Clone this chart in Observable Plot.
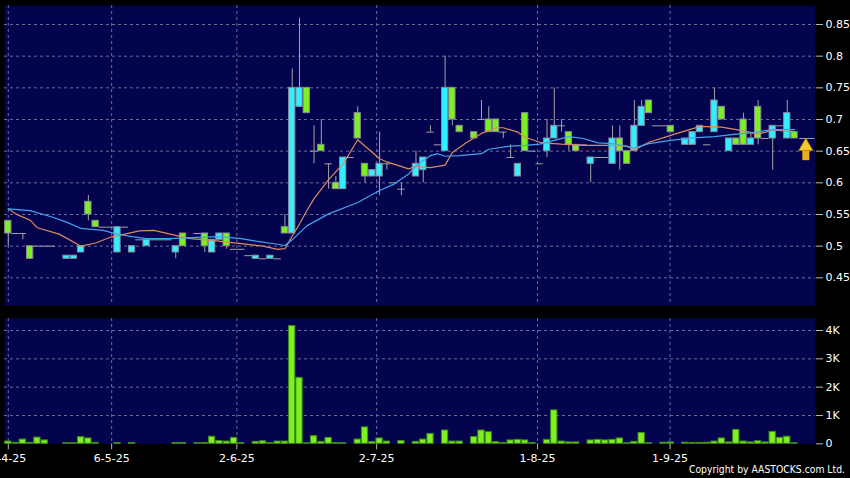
<!DOCTYPE html>
<html><head><meta charset="utf-8">
<script src="https://cdn.jsdelivr.net/npm/d3@7"></script>
<script src="https://cdn.jsdelivr.net/npm/@observablehq/plot@0.6"></script>
<style>
html,body{margin:0;padding:0;background:#000;}
#wrap{position:relative;width:850px;height:478px;overflow:hidden;background:#000;}
#price{position:absolute;left:0;top:0;}
#vol{position:absolute;left:0;top:312px;}
#copy{position:absolute;right:5px;top:463px;color:#fff;font:10.3px "DejaVu Sans Condensed","Liberation Sans",sans-serif;white-space:nowrap;}
</style></head>
<body><div id="wrap"><div id="price"></div><div id="vol"></div><div id="copy">Copyright by AASTOCKS.com Ltd.</div></div>
<script>
// ---- data (one entry per trading day, null = no candle drawn) ----
const openP = [
.54,.52,.52,.50,.50,.50,.50,null,.48,.48,
.49,.57,.54,.53,.53,.49,.53,.49,.51,.50,
.51,.51,.51,.49,.52,null,.52,.52,.49,.51,
.52,.495,.495,.485,.48,.48,.48,.48,.53,.52,
.72,.75,.65,.66,.63,.60,.59,.64,.71,.63,
.61,.61,.63,.60,.59,null,.61,.62,.68,.66,
.65,.75,.69,null,.68,.70,.70,.70,.68,.64,
.61,.71,.65,.63,.65,.67,.69,.68,.66,.66,
.63,.64,.64,.63,.67,.65,.65,.69,.73,.69,
.69,.69,null,.66,.66,.68,.66,.68,.72,.65,
.67,.70,.66,.72,.67,.67,.69,.67,.68];
const highP = [
.54,.52,.52,.50,.50,.50,.50,null,.485,.485,
.50,.58,.54,.53,.53,.53,.53,.50,.51,.51,
.51,.51,.51,.50,.52,null,.52,.52,.51,.52,
.52,.495,.495,.485,.485,.48,.485,.48,.55,.78,
.86,.75,.69,.70,.63,.61,.64,.64,.72,.63,
.62,.68,.63,.60,.60,null,.65,.64,.69,.66,
.80,.75,.69,null,.68,.73,.72,.70,.68,.66,
.63,.71,.65,.63,.70,.75,.70,.68,.66,.66,
.64,.64,.64,.69,.69,.65,.73,.73,.73,.69,
.69,.69,null,.67,.68,.69,.66,.75,.72,.67,
.67,.71,.68,.73,.67,.69,.69,.73,.68];
const lowP = [
.50,.52,.51,.48,.50,.50,.50,null,.48,.48,
.49,.54,.53,.53,.53,.49,.53,.49,.51,.50,
.51,.51,.51,.48,.50,null,.52,.49,.49,.51,
.495,.495,.495,.485,.48,.48,.48,.48,.52,.52,
.72,.71,.63,.65,.59,.59,.59,.64,.67,.60,
.61,.58,.62,.60,.58,null,.61,.60,.68,.66,
.65,.69,.68,null,.67,.70,.68,.68,.67,.64,
.61,.65,.65,.63,.64,.67,.68,.65,.65,.66,
.60,.64,.64,.63,.62,.63,.65,.69,.71,.69,
.69,.68,null,.66,.66,.68,.66,.68,.70,.65,
.66,.66,.66,.66,.67,.62,.69,.67,.67];
const closeP = [
.52,.52,.52,.48,.50,.50,.50,null,.485,.485,
.50,.55,.53,.53,.53,.53,.53,.50,.51,.51,
.51,.51,.51,.50,.50,null,.52,.50,.51,.52,
.50,.495,.495,.485,.485,.48,.485,.48,.52,.75,
.75,.71,.65,.65,.63,.59,.64,.64,.67,.61,
.62,.63,.63,.60,.59,null,.63,.64,.68,.66,
.75,.70,.68,null,.67,.70,.68,.68,.68,.64,
.63,.65,.65,.63,.67,.69,.69,.66,.65,.66,
.64,.64,.64,.67,.65,.63,.69,.72,.71,.69,
.69,.68,null,.67,.68,.69,.66,.73,.70,.67,
.66,.66,.67,.67,.67,.69,.69,.71,.67];
const volume = [
80,35,150,35,220,120,0,0,20,20,
235,190,35,0,0,30,0,30,0,0,
0,0,0,30,30,0,20,30,250,100,
80,210,30,0,70,90,30,80,80,4160,
2330,20,270,70,210,30,20,0,150,580,
60,190,80,0,100,0,70,150,350,0,
470,80,80,0,240,470,410,60,30,120,
140,120,30,0,140,1180,80,50,50,0,
120,140,120,140,190,20,70,380,20,0,
40,50,0,40,30,30,40,80,190,50,
490,80,50,90,50,420,210,250,20];
// moving averages (day index, value)
const maFastDay = [0,1,3,4,7,10,12,14,16,18,20,23,25,28,32,35,37,38,39,40,41,42,44,46,48,51,52,55,56,58,60,61,63,65,67,68,70,71,73,75,76,79,83,85,86,88,91,93,95,98,101,103,105,108];
const maFastVal = [.559,.551,.541,.529,.519,.500,.505,.514,.519,.524,.525,.517,.512,.509,.504,.500,.495,.496,.516,.535,.556,.575,.605,.630,.668,.638,.633,.622,.626,.624,.628,.648,.664,.678,.687,.687,.680,.672,.664,.662,.661,.659,.659,.658,.652,.664,.675,.682,.689,.688,.682,.677,.683,.681];
const maSlowDay = [0,3,6,8,10,13,15,17,19,22,26,29,32,34,37,38,39,41,44,48,51,53,55,56,58,59,60,62,65,66,69,71,73,75,77,79,81,83,86,88,91,94,97,100,102,105,108];
const maSlowVal = [.559,.556,.546,.538,.528,.525,.519,.515,.512,.512,.514,.515,.512,.508,.503,.501,.510,.532,.551,.569,.588,.598,.614,.627,.643,.646,.642,.643,.646,.653,.658,.659,.661,.667,.673,.670,.663,.662,.655,.662,.667,.671,.673,.677,.679,.684,.684];
const priceTicks = [0.45,0.5,0.55,0.6,0.65,0.7,0.75,0.8,0.85];
const volTicks = [0,1000,2000,3000,4000];
const dateTickPos = [0,14.2,31.4,50.6,72.7,90.9];
const dateTickLabels = ["9-4-25","6-5-25","2-6-25","2-7-25","1-8-25","1-9-25"];

// ---- styling ----
const NAVY="#03034e", GRID="#6c6c9c", WICK="#a4a4a4", BORDER="#8a8a9a";
const CYAN="#33eeff", GREEN="#7df022", ORANGE="#dd8a5e", BLUE="#44a4ee";
const FONT="'DejaVu Sans', sans-serif";
const xDomain=[-0.52,110.88];

const candles = closeP.map((c,i)=>({i,open:openP[i],high:highP[i],low:lowP[i],close:c,vol:volume[i]})).filter(d=>d.close!=null);
const bodies = candles.filter(d=>d.close!==d.open);
const flats = candles.filter(d=>d.close===d.open);
const wicks = candles.filter(d=>d.high>d.low);
const last = candles[candles.length-1];
const fast = maFastDay.map((x,k)=>({x,y:maFastVal[k]}));
const slow = maSlowDay.map((x,k)=>({x,y:maSlowVal[k]}));
const labelMap = new Map(dateTickPos.map((p,k)=>[p,dateTickLabels[k]]));

const price = Plot.plot({
  width:850,height:312,marginLeft:4,marginRight:35,marginTop:5,marginBottom:7,
  style:{background:"transparent",color:"#fff",fontFamily:FONT,fontSize:"11px"},
  x:{domain:xDomain,axis:null,label:null},
  y:{domain:[0.4063,0.880],axis:null,label:null},
  marks:[
    Plot.frame({fill:NAVY}),
    Plot.gridY(priceTicks,{stroke:GRID,strokeOpacity:1,strokeDasharray:"3,3"}),
    Plot.gridX(dateTickPos,{stroke:GRID,strokeOpacity:1,strokeDasharray:"3,3"}),
    Plot.axisY(priceTicks,{anchor:"right",label:null,tickSize:7,tickPadding:3,stroke:"#bbb",tickFormat:d=>String(d)}),
    Plot.ruleX(wicks,{x:"i",y1:"low",y2:"high",stroke:WICK}),
    Plot.ruleY(flats,{y:"close",x1:d=>d.i-0.5,x2:d=>d.i+0.5,stroke:WICK}),
    Plot.rect(bodies,{x1:d=>d.i-0.5,x2:d=>d.i+0.5,y1:"open",y2:"close",insetLeft:0.5,insetRight:0.5,
      fill:d=>d.close>d.open?CYAN:GREEN,stroke:BORDER,strokeWidth:1}),
    Plot.line(fast,{x:"x",y:"y",stroke:ORANGE,strokeWidth:1.2}),
    Plot.line(slow,{x:"x",y:"y",stroke:BLUE,strokeWidth:1.2}),
    Plot.ruleY([last],{y:"close",x1:d=>d.i+0.7,x2:d=>d.i+2.8,stroke:WICK}),
    Plot.ruleX([last],{x:d=>d.i+1.55,y1:d=>d.close-0.016,y2:d=>d.close-0.035,stroke:"#e8b020",strokeWidth:7}),
    Plot.dot([last],{x:d=>d.i+1.55,y:"close",dy:8,symbol:"triangle",r:5.3,fill:"#f8c830",stroke:"#b88000",strokeWidth:0.8})
  ]
});
document.getElementById("price").appendChild(price);

const vol = Plot.plot({
  width:850,height:166,marginLeft:4,marginRight:35,marginTop:6,marginBottom:34.7,
  style:{background:"transparent",color:"#fff",fontFamily:FONT,fontSize:"11px"},
  x:{domain:xDomain,axis:null,label:null},
  y:{domain:[0,4424],axis:null,label:null},
  marks:[
    Plot.frame({fill:NAVY}),
    Plot.gridY(volTicks.filter(v=>v>0),{stroke:GRID,strokeOpacity:1,strokeDasharray:"3,3"}),
    Plot.gridX(dateTickPos,{stroke:GRID,strokeOpacity:1,strokeDasharray:"3,3"}),
    Plot.axisY(volTicks,{anchor:"right",label:null,tickSize:7,tickPadding:3,stroke:"#bbb",tickFormat:d=>d===0?"0":(d/1000)+"K"}),
    Plot.axisX(dateTickPos,{anchor:"bottom",label:null,tickSize:6,tickPadding:4,stroke:"#bbb",tickFormat:d=>labelMap.get(d)}),
    Plot.rectY(candles.filter(d=>d.vol>0),{x1:d=>d.i-0.5,x2:d=>d.i+0.5,y:"vol",insetLeft:0.5,insetRight:0.5,fill:GREEN,stroke:"#3f8a18",strokeWidth:1})
  ]
});
document.getElementById("vol").appendChild(vol);
</script></body></html>
